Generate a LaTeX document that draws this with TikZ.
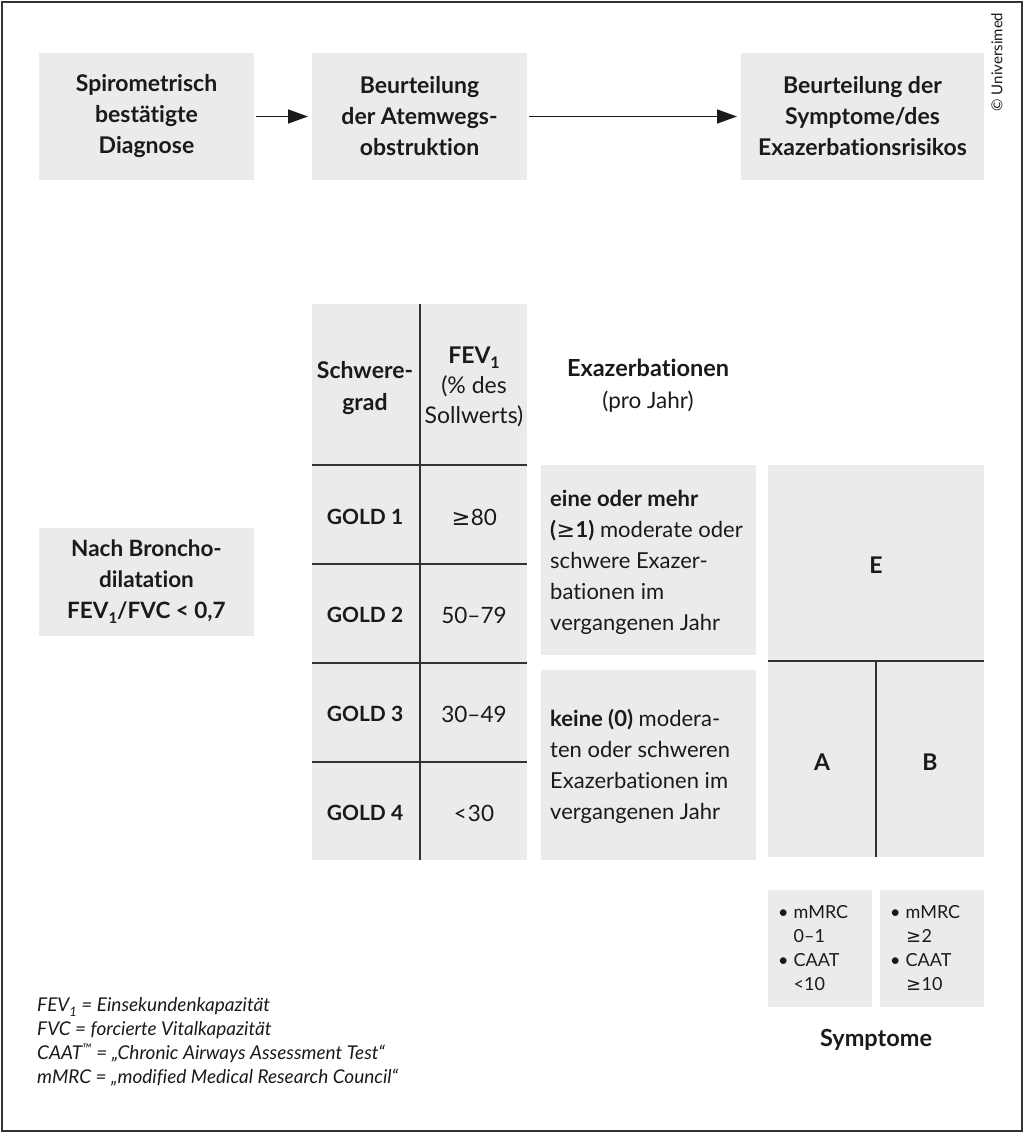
\documentclass[tikz,border=0pt]{standalone}
\usepackage{fontspec}
\setmainfont{Lato}[Ligatures={NoCommon}]
\newfontfamily\symf{DejaVu Sans}
\usetikzlibrary{arrows.meta}
\newcommand\fs[2]{\fontsize{#1}{#2}\selectfont}
\newcommand\sbone[1]{\raisebox{-0.45ex}{\fontsize{#1}{#1}\selectfont 1}}
\newcommand\GE{{\symf\mdseries\kern0.5pt≥\kern0.5pt}}
\definecolor{boxgray}{HTML}{EBEBEB}
\definecolor{linec}{HTML}{333333}
\definecolor{txt}{HTML}{1A1A1A}
\begin{document}
\begin{tikzpicture}[x=1pt,y=-1pt,
  every node/.style={text=txt},
  gbox/.style={fill=boxgray, inner sep=0pt, outer sep=0pt},
  topbox/.style={gbox, align=center, font=\bfseries\fs{23}{31}},
  arr/.style={draw=txt, line width=1.6pt, -{Triangle[length=20pt,width=14pt]}},
  rule/.style={draw=linec, line width=1.5pt},
  cellb/.style={font=\bfseries\fs{21}{30}, align=center},
  cellr/.style={font=\fs{22.5}{30}, align=center},
  exbox/.style={gbox, minimum width=215pt, minimum height=190pt},
  extext/.style={anchor=west, align=left, font=\fs{22}{31}, inner sep=0pt},
  sbox/.style={gbox, minimum width=104pt, minimum height=117pt},
  stext/.style={anchor=north west, inner sep=0pt, font=\fs{18}{24}},
  foot/.style={anchor=west, align=left, font=\itshape\fs{19}{24}, inner sep=0pt}
]
\useasboundingbox (0,0) rectangle (1024,1134);
\draw[linec, line width=1.5pt] (2,2) rectangle (1022,1131);

% top flow
\node[topbox, minimum width=215pt, minimum height=127pt] (b1) at (146.5,116.5) {Spirometrisch\\bestätigte\\Diagnose};
\node[topbox, minimum width=215pt, minimum height=127pt] (b2) at (419.5,116.5) {Beurteilung\\der Atemwegs-\\obstruktion};
\node[topbox, minimum width=243pt, minimum height=127pt] (b3) at (862.5,116.5) {Beurteilung der\\Symptome/des\\Exazerbationsrisikos};
\draw[arr, shorten <=2pt, shorten >=4pt] (b1) -- (b2);
\draw[arr, shorten <=2pt, shorten >=4pt] (b2) -- (b3);

\node[rotate=90, font=\fs{15}{15}, inner sep=0pt] (copy) at (997,62) {© Universimed};

% left box
\node[topbox, font=\bfseries\fs{22.5}{31}, minimum width=215pt, minimum height=108pt] (nb) at (146.5,582) {Nach Broncho-\\dilatation\\FEV\sbone{15}/FVC < 0,7};

% table
\node[gbox, minimum width=215pt, minimum height=556pt] (tab) at (419.5,582) {};
\draw[rule] (420,304) -- (420,860);
\foreach \yy in {465,564,663,762} \draw[rule] (312,\yy) -- (527,\yy);
\node[cellb, font=\bfseries\fs{23}{32}] (sg) at (365,388) {Schwere-\\grad};
\node[cellr, font=\fs{23}{30}] (fev) at (474,387) {\textbf{FEV\sbone{16}}\\(\% des\\Sollwerts)};
\node[cellb] (g1) at (365,517) {GOLD 1};
\node[cellb] (g2) at (365,615) {GOLD 2};
\node[cellb] (g3) at (365,714) {GOLD 3};
\node[cellb] (g4) at (365,813) {GOLD 4};
\node[cellr] (v1) at (474,517) {\GE80};
\node[cellr] (v2) at (474,615) {50–79};
\node[cellr] (v3) at (474,714) {30–49};
\node[cellr] (v4) at (474,813) {<\kern1pt30};

% exacerbations
\node[align=center, font=\fs{22.5}{32}] (exh) at (648,386) {\textbf{\fs{23.5}{32}Exazerbationen}\\(pro Jahr)};
\node[exbox] (ex1) at (648.5,560) {};
\node[exbox] (ex2) at (648.5,765) {};
\node[extext] (ext1) at ([xshift=9pt,yshift=-2pt]ex1.west) {\textbf{eine oder mehr}\\\textbf{(\GE1)} moderate oder\\schwere Exazer-\\bationen im\\vergangenen Jahr};
\node[extext] (ext2) at ([xshift=9pt,yshift=-1.5pt]ex2.west) {\textbf{keine (0)} modera-\\ten oder schweren\\Exazerbationen im\\vergangenen Jahr};

% ABE
\node[gbox, minimum width=216pt, minimum height=392pt] (abe) at (876,661) {};
\draw[rule] (abe.west) -- (abe.east);
\draw[rule] (abe.center) -- (abe.south);
\node[cellb, font=\bfseries\fs{23}{30}] (E) at (876,565) {E};
\node[cellb, font=\bfseries\fs{23}{30}] (A) at (822,762) {A};
\node[cellb, font=\bfseries\fs{23}{30}] (B) at (930,762) {B};

% symptoms
\node[sbox] (s1) at (820,948.5) {};
\node[sbox] (s2) at (932,948.5) {};
\node[stext] (st1) at ([xshift=10pt,yshift=-11pt]s1.north west) {\begin{tabular}{@{}l@{\hspace{5pt}}l@{}}•&mMRC\\&0–1\\•&CAAT\\&<10\end{tabular}};
\node[stext] (st2) at ([xshift=10pt,yshift=-11pt]s2.north west) {\begin{tabular}{@{}l@{\hspace{5pt}}l@{}}•&mMRC\\&\GE2\\•&CAAT\\&\GE10\end{tabular}};
\node[font=\bfseries\fs{23.5}{30}] (sym) at (876,1040) {Symptome};

% footnotes
\node[foot] (fn) at (37,1042) {FEV\sbone{13} = Einsekundenkapazität\\FVC = forcierte Vitalkapazität\\CAAT\textsuperscript{™} = „Chronic Airways Assessment Test“\\mMRC = „modified Medical Research Council“};
\end{tikzpicture}
\end{document}
